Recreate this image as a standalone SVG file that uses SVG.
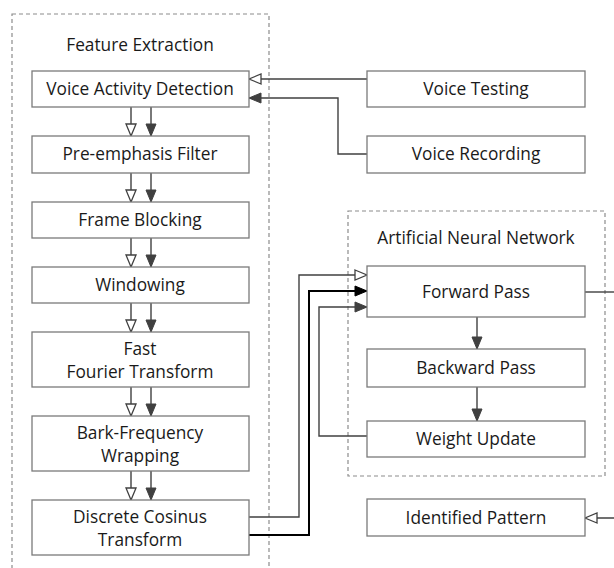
<svg xmlns="http://www.w3.org/2000/svg" width="614" height="568" viewBox="0 0 614 568">
  <style>
    .box { fill: #ffffff; stroke: #7a7a7a; stroke-width: 1.3; }
    .group { fill: none; stroke: #8c8c8c; stroke-width: 1.2; stroke-dasharray: 4 3; }
    .lbl { font-family: "Open Sans", "Liberation Sans", sans-serif; font-size: 17.3px; fill: #1a1a1a; text-anchor: middle; }
    .wire { fill: none; stroke: #404040; stroke-width: 1.4; }
    .wire-bold { fill: none; stroke: #000000; stroke-width: 2; }
  </style>
  <defs>
    <marker id="open" markerUnits="userSpaceOnUse" markerWidth="14" markerHeight="12" refX="13" refY="6" orient="auto">
      <path d="M1,1 L13,6 L1,11 Z" fill="#ffffff" stroke="#404040" stroke-width="1.3"/>
    </marker>
    <marker id="solid" markerUnits="userSpaceOnUse" markerWidth="14" markerHeight="12" refX="13" refY="6" orient="auto">
      <path d="M1,1 L13,6 L1,11 Z" fill="#404040" stroke="#404040" stroke-width="1"/>
    </marker>
    <marker id="solid-black" markerUnits="userSpaceOnUse" markerWidth="14" markerHeight="12" refX="13" refY="6" orient="auto">
      <path d="M1,1 L13,6 L1,11 Z" fill="#000000" stroke="#000000" stroke-width="1"/>
    </marker>
  </defs>

  <!-- grouping frames -->
  <g id="feature-extraction">
    <rect class="group" x="12" y="14" width="257" height="570"/>
    <text class="lbl" x="140" y="51">Feature Extraction</text>
  </g>
  <g id="ann">
    <rect class="group" x="348" y="211" width="257" height="265"/>
    <text class="lbl" x="476" y="244">Artificial Neural Network</text>
  </g>

  <!-- connectors -->
  <g id="connectors">
    <!-- feature extraction chain -->
    <line class="wire" x1="131" y1="107" x2="131" y2="136" marker-end="url(#open)"/>
    <line class="wire" x1="151" y1="107" x2="151" y2="136" marker-end="url(#solid)"/>
    <line class="wire" x1="131" y1="173" x2="131" y2="202" marker-end="url(#open)"/>
    <line class="wire" x1="151" y1="173" x2="151" y2="202" marker-end="url(#solid)"/>
    <line class="wire" x1="131" y1="238" x2="131" y2="267" marker-end="url(#open)"/>
    <line class="wire" x1="151" y1="238" x2="151" y2="267" marker-end="url(#solid)"/>
    <line class="wire" x1="131" y1="303" x2="131" y2="332" marker-end="url(#open)"/>
    <line class="wire" x1="151" y1="303" x2="151" y2="332" marker-end="url(#solid)"/>
    <line class="wire" x1="131" y1="387" x2="131" y2="416" marker-end="url(#open)"/>
    <line class="wire" x1="151" y1="387" x2="151" y2="416" marker-end="url(#solid)"/>
    <line class="wire" x1="131" y1="471" x2="131" y2="500" marker-end="url(#open)"/>
    <line class="wire" x1="151" y1="471" x2="151" y2="500" marker-end="url(#solid)"/>

    <!-- voice sources into detection -->
    <line class="wire" x1="367" y1="79" x2="249" y2="79" marker-end="url(#open)"/>
    <polyline class="wire" points="367,154 338,154 338,98 249,98" marker-end="url(#solid)"/>

    <!-- cepstral features into the network -->
    <polyline class="wire" points="249,517 299,517 299,275 367,275" marker-end="url(#open)"/>
    <polyline class="wire-bold" points="249,535 309,535 309,291 367,291" marker-end="url(#solid-black)"/>
    <polyline class="wire" points="367,436 319,436 319,307 367,307" marker-end="url(#solid)"/>

    <!-- training loop -->
    <line class="wire" x1="477" y1="317" x2="477" y2="349" marker-end="url(#solid)"/>
    <line class="wire" x1="477" y1="387" x2="477" y2="421" marker-end="url(#solid)"/>

    <!-- outputs -->
    <line class="wire" x1="585" y1="292" x2="614" y2="292"/>
    <line class="wire" x1="620" y1="518" x2="585" y2="518" marker-end="url(#open)"/>
  </g>

  <!-- nodes -->
  <g id="vad">
    <rect class="box" x="32" y="71" width="217" height="36"/>
    <text class="lbl" x="140" y="95">Voice Activity Detection</text>
  </g>
  <g id="pre-emphasis">
    <rect class="box" x="32" y="136" width="217" height="37"/>
    <text class="lbl" x="140" y="160">Pre-emphasis Filter</text>
  </g>
  <g id="frame-blocking">
    <rect class="box" x="32" y="202" width="217" height="36"/>
    <text class="lbl" x="140" y="226">Frame Blocking</text>
  </g>
  <g id="windowing">
    <rect class="box" x="32" y="267" width="217" height="36"/>
    <text class="lbl" x="140" y="291">Windowing</text>
  </g>
  <g id="fft">
    <rect class="box" x="32" y="332" width="217" height="55"/>
    <text class="lbl" x="140" y="355">Fast</text>
    <text class="lbl" x="140" y="378">Fourier Transform</text>
  </g>
  <g id="bark">
    <rect class="box" x="32" y="416" width="217" height="55"/>
    <text class="lbl" x="140" y="439">Bark-Frequency</text>
    <text class="lbl" x="140" y="462">Wrapping</text>
  </g>
  <g id="dct">
    <rect class="box" x="32" y="500" width="217" height="55"/>
    <text class="lbl" x="140" y="523">Discrete Cosinus</text>
    <text class="lbl" x="140" y="546">Transform</text>
  </g>
  <g id="voice-testing">
    <rect class="box" x="367" y="71" width="218" height="36"/>
    <text class="lbl" x="476" y="95">Voice Testing</text>
  </g>
  <g id="voice-recording">
    <rect class="box" x="367" y="136" width="218" height="37"/>
    <text class="lbl" x="476" y="160">Voice Recording</text>
  </g>
  <g id="forward-pass">
    <rect class="box" x="367" y="266" width="218" height="51"/>
    <text class="lbl" x="476" y="298">Forward Pass</text>
  </g>
  <g id="backward-pass">
    <rect class="box" x="367" y="349" width="218" height="38"/>
    <text class="lbl" x="476" y="374">Backward Pass</text>
  </g>
  <g id="weight-update">
    <rect class="box" x="367" y="421" width="218" height="36"/>
    <text class="lbl" x="476" y="445">Weight Update</text>
  </g>
  <g id="identified-pattern">
    <rect class="box" x="367" y="499" width="218" height="37"/>
    <text class="lbl" x="476" y="524">Identified Pattern</text>
  </g>
</svg>
